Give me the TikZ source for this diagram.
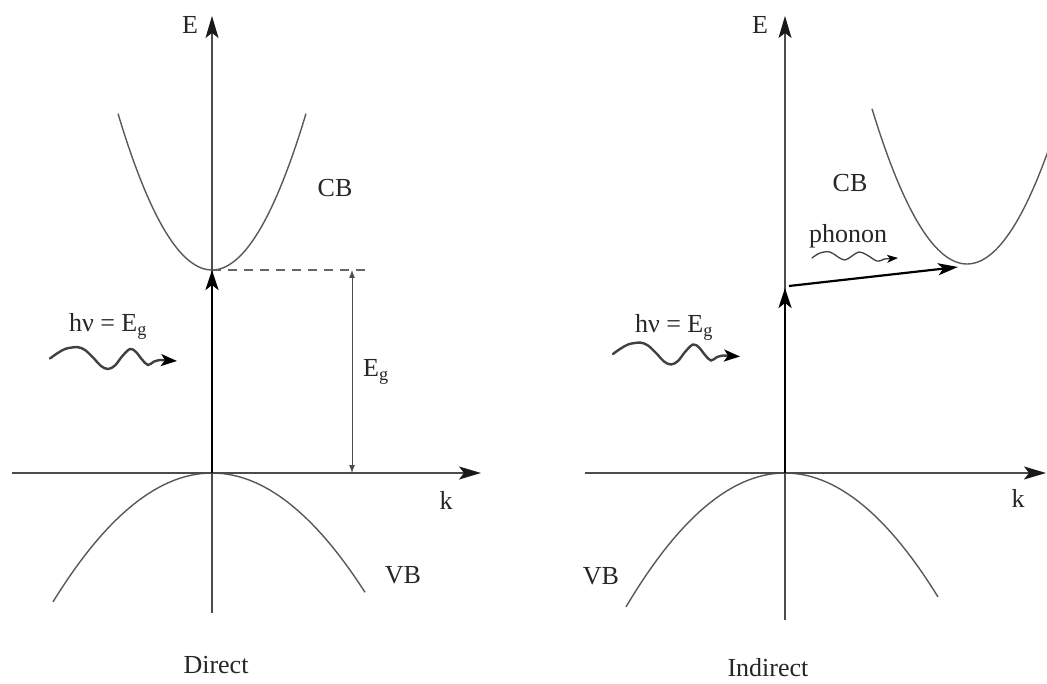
\documentclass[tikz,border=0pt]{standalone}
\usepackage{fontspec}
\setmainfont{Liberation Serif}
\usetikzlibrary{arrows.meta}
\tikzset{
  lbl/.style={font=\fontsize{26}{30}\selectfont, inner sep=0pt, text=black!85},
  axisline/.style={line width=1.4pt, draw=black!70, -{Stealth[length=22pt,width=13pt,inset=5pt,color=black!90]}},
  bandline/.style={line width=1.4pt, draw=black!65},
  transarrow/.style={line width=2.6pt, draw=black, -{Stealth[length=20pt,width=13pt,inset=5pt]}},
  gapline/.style={line width=1pt, draw=black!70, {Latex[length=8pt,width=6pt]}-{Latex[length=8pt,width=6pt]}},
  dashline/.style={line width=1.2pt, draw=black!60, dash pattern=on 9pt off 7pt},
  wavebig/.style={line width=2.4pt, draw=black!75, line cap=round, -{Stealth[length=16pt,width=12pt,inset=4pt,color=black]}},
  wavesmall/.style={line width=1.3pt, draw=black!75, line cap=round, -{Stealth[length=11pt,width=8pt,inset=3pt,color=black]}},
  photon/.pic={\draw[wavebig] plot[smooth, tension=0.6] coordinates {(0,0) (7,-5) (15,-9.5) (22,-11) (28,-11.3) (35,-8.5) (44,0) (51,7.5) (58,10.5) (65,7) (72,-2) (80,-9.5) (86,-6.5) (92,1) (98,6.5) (104,3) (110,1.5)} -- (127,2.5);},
  phononwave/.pic={\draw[wavesmall] plot[smooth, tension=0.6] coordinates {(0,0) (8,-5) (18,-6) (26,-1) (33,2) (40,-2) (47,-6) (55,-3) (65,3) (72,1)} -- (86,0);}
}
\begin{document}
\begin{tikzpicture}[x=1pt,y=-1pt]
\useasboundingbox (0,0) rectangle (1047,684);
\fill[white] (0,0) rectangle (1047,684);

% ---------- Direct panel ----------
\coordinate (L0) at (212,473);
\coordinate (LEtop) at (212,16);
\coordinate (LEbot) at (212,613);
\coordinate (Lkl) at (12,473);
\coordinate (Lkr) at (481,473);
\coordinate (Lcb) at (212,270);
\coordinate (LdT) at (368,270);
\coordinate (LdB) at (368,473);
\coordinate (EgT) at (352,270);
\coordinate (EgB) at (352,473);

\draw[bandline] plot[domain=-94:94, samples=60] ({212+\x},{270-0.0177*(\x)*(\x)});
\draw[bandline] plot[domain=-159:153, samples=60] ({212+\x},{473+0.0051*(\x)*(\x)});
\draw[dashline] (Lcb) -- (LdT);
\draw[dashline] (L0) -- (LdB);
\draw[axisline] (Lkl) -- (Lkr);
\draw[axisline] (LEbot) -- (LEtop);
\draw[gapline] (EgT) -- (EgB);
\draw[transarrow] (L0) -- (Lcb);
\pic at (50,358.5) {photon};

\node[lbl] (LE) at (190,25) {E};
\node[lbl] (LCB) at (335,188) {CB};
\node[lbl] (LVB) at (403,575) {VB};
\node[lbl] (Lk) at (446,500) {k};
\node[lbl, anchor=base] (Lhv) at (108,332) {hν = E\textsubscript{g}};
\node[lbl, anchor=base west] (Eg) at (363,377) {E\textsubscript{g}};
\node[lbl] (Direct) at (216,665) {Direct};

% ---------- Indirect panel ----------
\coordinate (R0) at (785,473);
\coordinate (REtop) at (785,16);
\coordinate (REbot) at (785,620);
\coordinate (Rkl) at (585,473);
\coordinate (Rkr) at (1046,473);
\coordinate (Rtop) at (785,288);
\coordinate (Rph) at (789,286);
\coordinate (Rcb) at (958,267);

\begin{scope}
\clip (586,0) rectangle (1047,684);
\draw[bandline] plot[domain=-95:82, samples=60] ({967+\x},{264-0.0172*(\x)*(\x)});
\end{scope}
\draw[bandline] plot[domain=-159:153, samples=60] ({785+\x},{473+0.0053*(\x)*(\x)});
\draw[axisline] (Rkl) -- (Rkr);
\draw[axisline] (REbot) -- (REtop);
\draw[transarrow] (R0) -- (Rtop);
\draw[line width=2.2pt, draw=black, -{Stealth[length=20pt,width=12pt,inset=5pt]}] (Rph) -- (Rcb);
\pic at (613,354) {photon};
\pic at (812,258) {phononwave};

\node[lbl] (RE) at (760,25) {E};
\node[lbl] (RCB) at (850,183) {CB};
\node[lbl] (RVB) at (601,576) {VB};
\node[lbl] (Rk) at (1018,498) {k};
\node[lbl, anchor=base] (Rhv) at (674,333) {hν = E\textsubscript{g}};
\node[lbl, anchor=base] (phonon) at (848,243) {phonon};
\node[lbl] (Indirect) at (768,668) {Indirect};
\end{tikzpicture}
\end{document}
